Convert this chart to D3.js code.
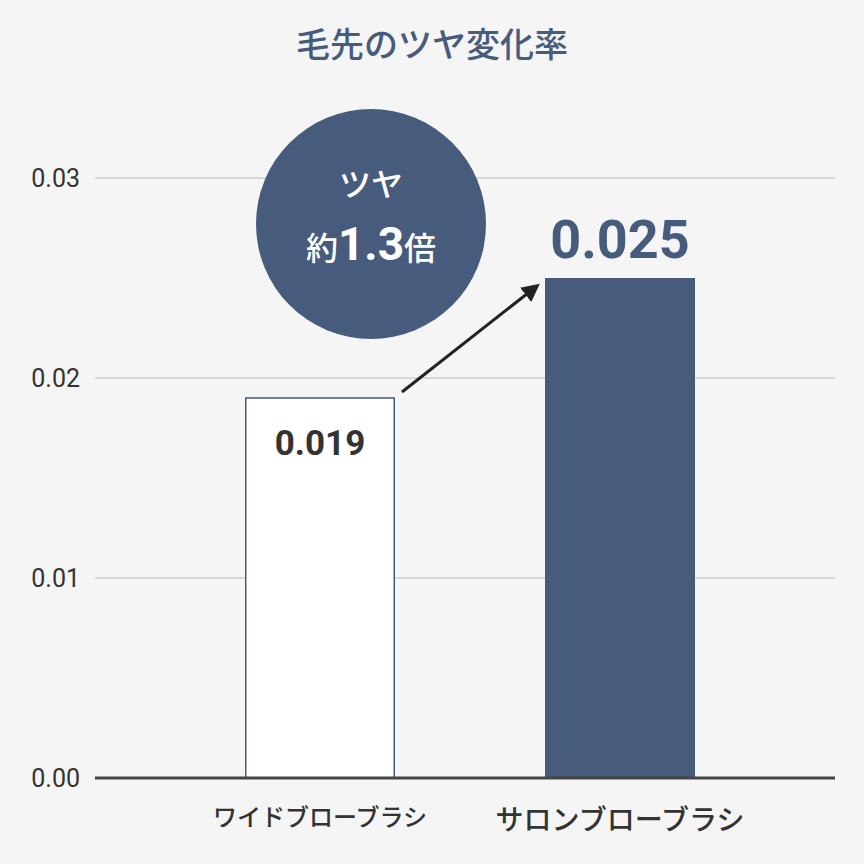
<!DOCTYPE html><html><head><meta charset="utf-8"><script src="https://cdn.jsdelivr.net/npm/d3@7"></script>
<style>body{margin:0;background:#f5f5f5}</style></head><body><svg id="c" width="864" height="864"></svg><script>
const categories=["ワイドブローブラシ","サロンブローブラシ"];
const values=[0.019,0.025];
const valueLabels=["0.019","0.025"];
const tickValues=[0,0.01,0.02,0.03];
const tickLabels=["0.00","0.01","0.02","0.03"];
const navy="#475b7d";
const font="'Noto Sans CJK JP','Noto Sans',sans-serif";
const svg=d3.select("#c");
svg.append("rect").attr("width",864).attr("height",864).attr("fill","#f5f5f5");
const y=d3.scaleLinear().domain([0,0.03]).range([778,178]);
const x=d3.scaleBand().domain(categories).range([170,770]).paddingInner(0.5).paddingOuter(0.25);
svg.append("text").attr("x",432).attr("y",57).attr("text-anchor","middle").attr("font-family",font).attr("font-size",34).attr("font-weight",500).attr("fill",navy).text("毛先のツヤ変化率");
tickValues.forEach((t,i)=>{
 if(t>0) svg.append("line").attr("x1",95).attr("x2",835).attr("y1",y(t)).attr("y2",y(t)).attr("stroke","#cccccc").attr("stroke-width",1.5);
 svg.append("text").attr("x",80).attr("y",y(t)+9).attr("text-anchor","end").attr("font-family","Roboto,sans-serif").attr("font-size",25).attr("fill","#333").text(tickLabels[i]);
});
categories.forEach((c,i)=>{
 svg.append("rect").attr("x",x(c)+(i==0?0.75:0)).attr("y",y(values[i])).attr("width",x.bandwidth()-(i==0?1.5:0)).attr("height",y(0)-y(values[i]))
  .attr("fill",i==0?"#fff":navy).attr("stroke",i==0?navy:"none").attr("stroke-width",1.5);
 svg.append("text").attr("x",x(c)+x.bandwidth()/2).attr("y",i==0?826:830).attr("text-anchor","middle").attr("font-family",font).attr("font-weight",500).attr("font-size",i==0?24:28).attr("fill","#333").text(c);
});
svg.append("line").attr("x1",95).attr("x2",835).attr("y1",y(0)).attr("y2",y(0)).attr("stroke","#444").attr("stroke-width",3);
svg.append("text").attr("x",x(categories[0])+x.bandwidth()/2).attr("y",y(values[0])+57).attr("text-anchor","middle").attr("font-family","Roboto,sans-serif").attr("font-weight",700).attr("font-size",35).attr("fill","#333").text(valueLabels[0]);
svg.append("text").attr("x",x(categories[1])+x.bandwidth()/2).attr("y",y(values[1])-20).attr("text-anchor","middle").attr("font-family","Roboto,sans-serif").attr("font-weight",700).attr("font-size",54).attr("fill",navy).text(valueLabels[1]);
const defs=svg.append("defs");
defs.append("marker").attr("id","ah").attr("viewBox","0 0 10 10").attr("refX",8).attr("refY",5).attr("markerWidth",6).attr("markerHeight",6).attr("orient","auto").append("path").attr("d","M0,0L10,5L0,10z").attr("fill","#222");
svg.append("line").attr("x1",x(categories[0])+x.bandwidth()+7).attr("y1",y(values[0])-6).attr("x2",x(categories[1])-8).attr("y2",y(values[1])+8).attr("stroke","#222").attr("stroke-width",3).attr("marker-end","url(#ah)");
svg.append("circle").attr("cx",371).attr("cy",224).attr("r",115).attr("fill",navy);
svg.append("text").attr("x",371).attr("y",196).attr("text-anchor","middle").attr("font-family",font).attr("font-size",32).attr("font-weight",500).attr("fill","#fff").text("ツヤ");
const t=svg.append("text").attr("x",371).attr("y",260).attr("text-anchor","middle").attr("font-family",font).attr("fill","#fff").attr("font-weight",500);
t.append("tspan").attr("font-size",32).text("約");
t.append("tspan").attr("font-size",46).attr("font-family","Roboto,sans-serif").attr("font-weight",700).text("1.3");
t.append("tspan").attr("font-size",32).text("倍");
</script></body></html>
